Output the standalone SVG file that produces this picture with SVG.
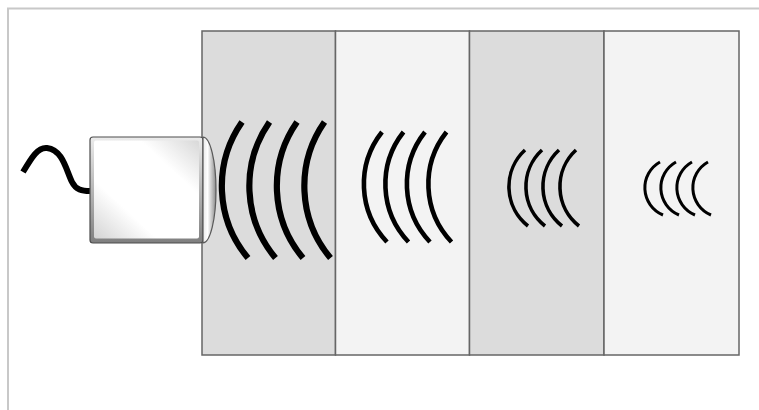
<svg xmlns="http://www.w3.org/2000/svg" width="759" height="410" viewBox="0 0 759 410">
  <defs>
    <linearGradient id="boxEdge" x1="0" y1="0" x2="0" y2="1">
      <stop offset="0" stop-color="#ececec"/>
      <stop offset="1" stop-color="#7f7f7f"/>
    </linearGradient>
    <linearGradient id="boxFace" x1="0" y1="1" x2="1" y2="0">
      <stop offset="0" stop-color="#d4d4d4"/>
      <stop offset="0.3" stop-color="#ffffff"/>
      <stop offset="0.72" stop-color="#ffffff"/>
      <stop offset="1" stop-color="#d8d8d8"/>
    </linearGradient>
    <linearGradient id="lensFill" x1="0" y1="0" x2="1" y2="0">
      <stop offset="0" stop-color="#e8e8e8"/>
      <stop offset="0.35" stop-color="#ffffff"/>
      <stop offset="1" stop-color="#8a8a8a"/>
    </linearGradient>
  </defs>
  <style>
    .frame { stroke: #c8c8c8; stroke-width: 2; fill: none; }
    .panel { stroke: #666666; stroke-width: 1.5; }
    .dark { fill: #dcdcdc; }
    .light { fill: #f3f3f3; }
    .wave { fill: none; stroke: #000000; stroke-linecap: butt; }
  </style>

  <rect width="759" height="410" fill="#ffffff"/>
  <path class="frame" d="M8,410 V8.5 H759"/>

  <!-- four layers of material -->
  <g id="layers">
    <rect id="layer1" class="panel dark" x="202" y="31" width="133.5" height="324"/>
    <rect id="layer2" class="panel light" x="335.5" y="31" width="134" height="324"/>
    <rect id="layer3" class="panel dark" x="469.5" y="31" width="134.5" height="324"/>
    <rect id="layer4" class="panel light" x="604" y="31" width="135" height="324"/>
  </g>

  <!-- cable feeding the probe -->
  <g id="cable">
    <path d="M23,172 C32,157 38,147 47,148 C63,150 66,170 72,182 C76,190 82,191 90,191" fill="none" stroke="#000" stroke-width="6"/>
  </g>

  <!-- probe body and lens -->
  <g id="probe">
    <rect x="90" y="137" width="113" height="106" rx="3" fill="url(#boxEdge)" stroke="#4d4d4d" stroke-width="1.2"/>
    <rect x="94" y="140.5" width="105" height="98" rx="2" fill="url(#boxFace)"/>
    <path d="M203,137 A13 53 0 0 1 203,243 Z" fill="url(#lensFill)" stroke="#5a5a5a" stroke-width="1.2"/>
  </g>

  <!-- wavefronts, weakening with depth -->
  <g id="waves1" class="wave" stroke-width="6.2">
    <path d="M242,122 A112 112 0 0 0 248,258"/>
    <path d="M269.5,122 A112 112 0 0 0 275.5,258"/>
    <path d="M297,122 A112 112 0 0 0 303,258"/>
    <path d="M324.5,122 A112 112 0 0 0 330.5,258"/>
  </g>
  <g id="waves2" class="wave" stroke-width="4.6">
    <path d="M382,132 A84 84 0 0 0 387,242"/>
    <path d="M403.5,132 A84 84 0 0 0 408.5,242"/>
    <path d="M425,132 A84 84 0 0 0 430,242"/>
    <path d="M446.5,132 A84 84 0 0 0 451.5,242"/>
  </g>
  <g id="waves3" class="wave" stroke-width="3.6">
    <path d="M525,150 A50 50 0 0 0 528,226"/>
    <path d="M542,150 A50 50 0 0 0 545,226"/>
    <path d="M559,150 A50 50 0 0 0 562,226"/>
    <path d="M576,150 A50 50 0 0 0 579,226"/>
  </g>
  <g id="waves4" class="wave" stroke-width="3">
    <path d="M660,162 A29.5 29.5 0 0 0 663,215"/>
    <path d="M676,162 A29.5 29.5 0 0 0 679,215"/>
    <path d="M692,162 A29.5 29.5 0 0 0 695,215"/>
    <path d="M708,162 A29.5 29.5 0 0 0 711,215"/>
  </g>
</svg>
